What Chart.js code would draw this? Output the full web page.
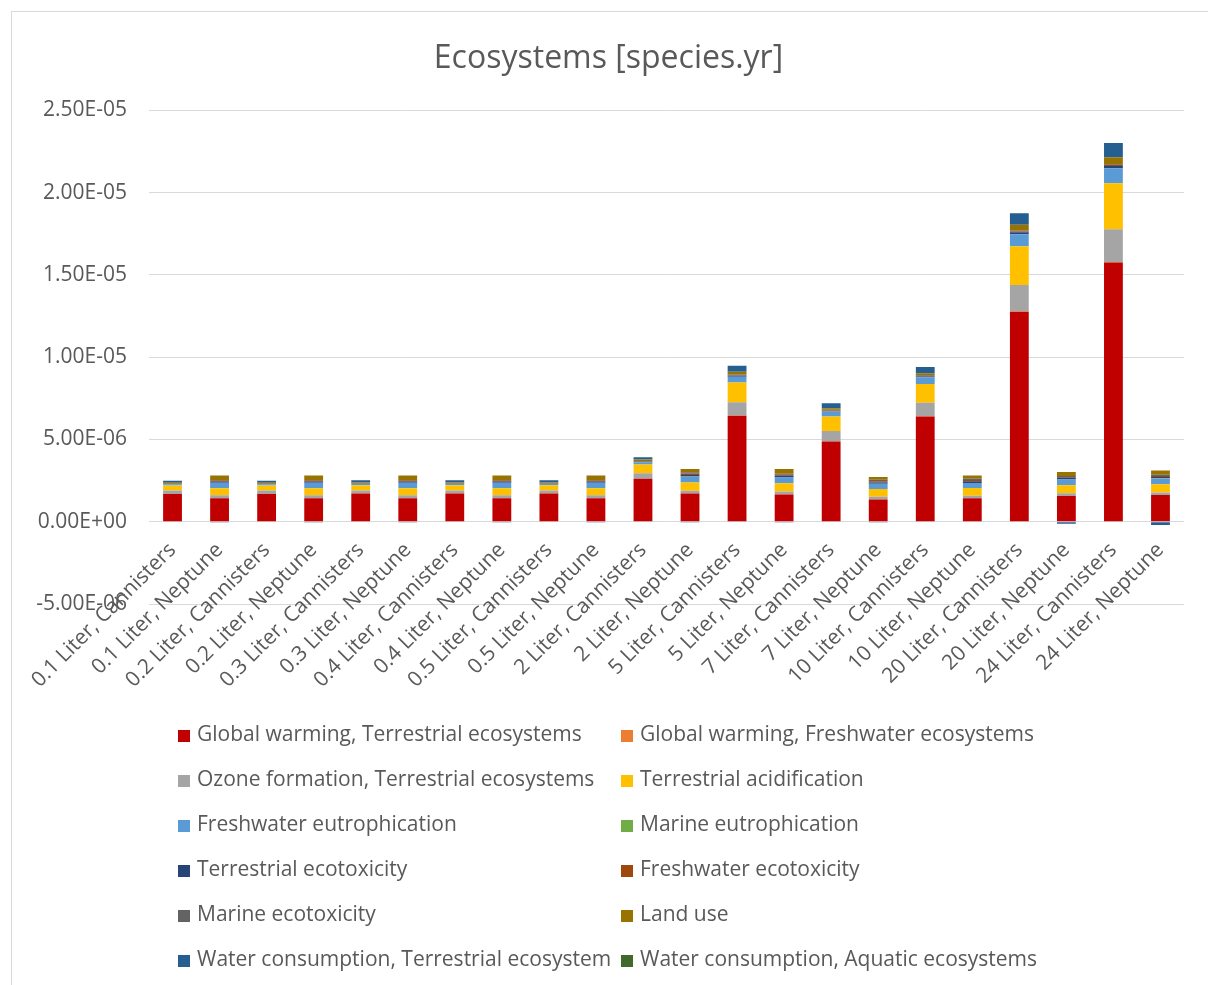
<!DOCTYPE html>
<html>
<head>
<meta charset="utf-8">
<title>Ecosystems [species.yr]</title>
<script src="https://cdn.jsdelivr.net/npm/chart.js@4.4.1/dist/chart.umd.min.js"></script>
<style>
    html, body { margin: 0; padding: 0; overflow: hidden; background: #fff; }
    #frame { position: absolute; left: 11px; top: 11px; width: 1300px; height: 1100px; border: 1px solid #d9d9d9; }
    #holder { position: absolute; left: 0; top: 0; width: 1208px; height: 985px; }
    #legend { position: absolute; left: 0; top: 0; font-family: "Open Sans", sans-serif; font-size: 21px; color: #595959; }
    #legend .item { position: absolute; white-space: nowrap; line-height: 28px; height: 28px; }
    #legend .box { display: inline-block; width: 12px; height: 12px; margin-right: 7px; vertical-align: -1px; }
</style>
</head>
<body>
<div id="frame"></div>
<div id="holder">
    <canvas id="diagram" width="1208" height="985"></canvas>
    <div id="legend"></div>
</div>
<script type="text/javascript">
    var categories = [
        "0.1 Liter, Cannisters", "0.1 Liter, Neptune",
        "0.2 Liter, Cannisters", "0.2 Liter, Neptune",
        "0.3 Liter, Cannisters", "0.3 Liter, Neptune",
        "0.4 Liter, Cannisters", "0.4 Liter, Neptune",
        "0.5 Liter, Cannisters", "0.5 Liter, Neptune",
        "2 Liter, Cannisters", "2 Liter, Neptune",
        "5 Liter, Cannisters", "5 Liter, Neptune",
        "7 Liter, Cannisters", "7 Liter, Neptune",
        "10 Liter, Cannisters", "10 Liter, Neptune",
        "20 Liter, Cannisters", "20 Liter, Neptune",
        "24 Liter, Cannisters", "24 Liter, Neptune"
    ];

    // all impact values below are in 1E-06 species.yr
    var gwTerrestrial = [1.68, 1.42, 1.68, 1.42, 1.72, 1.42, 1.72, 1.42, 1.72, 1.42, 2.61, 1.71, 6.44, 1.66, 4.88, 1.35, 6.40, 1.42, 12.76, 1.56, 15.75, 1.62];
    var gwFreshwater = [0.004, 0.003, 0.004, 0.003, 0.004, 0.003, 0.004, 0.003, 0.004, 0.003, 0.006, 0.004, 0.015, 0.004, 0.011, 0.003, 0.015, 0.003, 0.03, 0.004, 0.037, 0.004];
    var ozoneTerrestrial = [0.21, 0.18, 0.21, 0.18, 0.18, 0.18, 0.18, 0.18, 0.18, 0.18, 0.33, 0.17, 0.81, 0.18, 0.63, 0.16, 0.81, 0.16, 1.60, 0.16, 1.99, 0.16];
    var terrAcidification = [0.31, 0.43, 0.31, 0.43, 0.32, 0.43, 0.32, 0.43, 0.32, 0.43, 0.53, 0.50, 1.20, 0.49, 0.87, 0.47, 1.15, 0.47, 2.35, 0.49, 2.79, 0.49];
    var fwEutrophication = [0.07, 0.33, 0.07, 0.33, 0.07, 0.33, 0.07, 0.33, 0.07, 0.33, 0.14, 0.36, 0.35, 0.36, 0.30, 0.32, 0.40, 0.30, 0.73, 0.35, 0.91, 0.36];
    var marineEutrophication = [0.001, 0.002, 0.001, 0.002, 0.001, 0.002, 0.001, 0.002, 0.001, 0.002, 0.002, 0.002, 0.004, 0.002, 0.003, 0.002, 0.004, 0.002, 0.008, 0.002, 0.01, 0.002];
    var terrEcotoxicity = [0.02, 0.07, 0.02, 0.07, 0.02, 0.07, 0.02, 0.07, 0.02, 0.07, 0.03, 0.10, 0.05, 0.10, 0.04, 0.08, 0.05, 0.10, 0.12, 0.10, 0.14, 0.08];
    var fwEcotoxicity = [0.01, 0.06, 0.01, 0.06, 0.01, 0.06, 0.01, 0.06, 0.01, 0.06, 0.02, 0.08, 0.03, 0.06, 0.03, 0.08, 0.03, 0.08, 0.04, 0.06, 0.05, 0.07];
    var marineEcotoxicity = [0.01, 0.04, 0.01, 0.04, 0.01, 0.04, 0.01, 0.04, 0.01, 0.04, 0.03, 0.08, 0.05, 0.06, 0.04, 0.08, 0.05, 0.07, 0.06, 0.06, 0.05, 0.07];
    var landUse = [0.05, 0.28, 0.05, 0.28, 0.05, 0.28, 0.05, 0.28, 0.05, 0.28, 0.08, 0.20, 0.16, 0.29, 0.10, 0.18, 0.12, 0.20, 0.35, 0.24, 0.42, 0.26];
    var wcTerrestrial = [0.13, -0.01, 0.13, -0.01, 0.13, -0.01, 0.13, -0.01, 0.13, -0.01, 0.14, -0.01, 0.37, -0.04, 0.30, -0.02, 0.38, -0.03, 0.70, -0.13, 0.87, -0.20];
    var wcAquatic = [0.0005, 0.0002, 0.0005, 0.0002, 0.0005, 0.0002, 0.0005, 0.0002, 0.0005, 0.0002, 0.0006, 0.0002, 0.0015, 0.0002, 0.0012, 0.0002, 0.0015, 0.0002, 0.003, 0.0002, 0.0035, 0.0002];

    var yTicks = [-5e-6, 0, 5e-6, 1e-5, 1.5e-5, 2e-5, 2.5e-5];

    var seriesNames = [
        "Global warming, Terrestrial ecosystems", "Global warming, Freshwater ecosystems",
        "Ozone formation, Terrestrial ecosystems", "Terrestrial acidification",
        "Freshwater eutrophication", "Marine eutrophication",
        "Terrestrial ecotoxicity", "Freshwater ecotoxicity",
        "Marine ecotoxicity", "Land use",
        "Water consumption, Terrestrial ecosystem", "Water consumption, Aquatic ecosystems"
    ];
    var seriesValues = [
        gwTerrestrial, gwFreshwater, ozoneTerrestrial, terrAcidification,
        fwEutrophication, marineEutrophication, terrEcotoxicity, fwEcotoxicity,
        marineEcotoxicity, landUse, wcTerrestrial, wcAquatic
    ];
    var seriesColours = [
        "#C00000", "#ED7D31", "#A5A5A5", "#FFC000", "#5B9BD5", "#70AD47",
        "#264478", "#9E480E", "#636363", "#997300", "#255E91", "#43682B"
    ];

    var UNIT = 1e-6;
    var textColour = "#595959";
    var gridColour = "#D9D9D9";
    var fontFamily = "'Open Sans', sans-serif";

    // Excel style scientific label, e.g. 2.50E-05
    function sciLabel(v) {
        if (Math.abs(v) < 1e-12) v = 0;
        var parts = v.toExponential(2).split("e");
        var exp = parseInt(parts[1], 10);
        var sign = exp < 0 ? "-" : "+";
        var digits = Math.abs(exp) < 10 ? "0" + Math.abs(exp) : "" + Math.abs(exp);
        return parts[0] + "E" + sign + digits;
    }

    var datasets = seriesNames.map(function(name, i) {
        return {
            label: name,
            data: seriesValues[i].map(function(v) { return v * UNIT; }),
            backgroundColor: seriesColours[i],
            borderWidth: 0,
            categoryPercentage: 1.0,
            barPercentage: 0.4
        };
    });

    var chart = new Chart(document.getElementById("diagram"), {
        type: "bar",
        data: { labels: categories, datasets: datasets },
        options: {
            responsive: false,
            animation: false,
            layout: { padding: { top: 40, right: 24, bottom: 381, left: 33 } },
            plugins: {
                legend: { display: false },
                tooltip: { enabled: false },
                title: {
                    display: true,
                    text: "Ecosystems [species.yr]",
                    color: textColour,
                    font: { family: fontFamily, size: 32, weight: "normal", lineHeight: 1.2 },
                    padding: { top: 0, bottom: 32 }
                }
            },
            scales: {
                x: {
                    stacked: true,
                    // category axis crosses the value axis at zero
                    position: { y: 0 },
                    grid: { display: false },
                    border: { display: false },
                    ticks: {
                        autoSkip: false,
                        maxRotation: 45,
                        minRotation: 45,
                        padding: 8,
                        color: textColour,
                        font: { family: fontFamily, size: 21 }
                    }
                },
                y: {
                    stacked: true,
                    min: yTicks[0],
                    max: yTicks[yTicks.length - 1],
                    afterBuildTicks: function(scale) {
                        scale.ticks = yTicks.map(function(v) { return { value: v }; });
                    },
                    grid: { color: gridColour, lineWidth: 1, drawTicks: false },
                    border: { display: false },
                    ticks: {
                        padding: 22,
                        color: textColour,
                        font: { family: fontFamily, size: 21 },
                        callback: function(v) { return sciLabel(v); }
                    },
                    afterFit: function(scale) { scale.width = 116; }
                }
            }
        }
    });

    // two-column legend under the axis labels
    var legendEl = document.getElementById("legend");
    chart.data.datasets.forEach(function(ds, i) {
        var item = document.createElement("div");
        item.className = "item";
        item.style.left = (i % 2 === 0 ? 178 : 621) + "px";
        item.style.top = (719 + Math.floor(i / 2) * 45) + "px";
        var box = document.createElement("span");
        box.className = "box";
        box.style.background = ds.backgroundColor;
        item.appendChild(box);
        item.appendChild(document.createTextNode(ds.label));
        legendEl.appendChild(item);
    });
</script>
</body>
</html>
